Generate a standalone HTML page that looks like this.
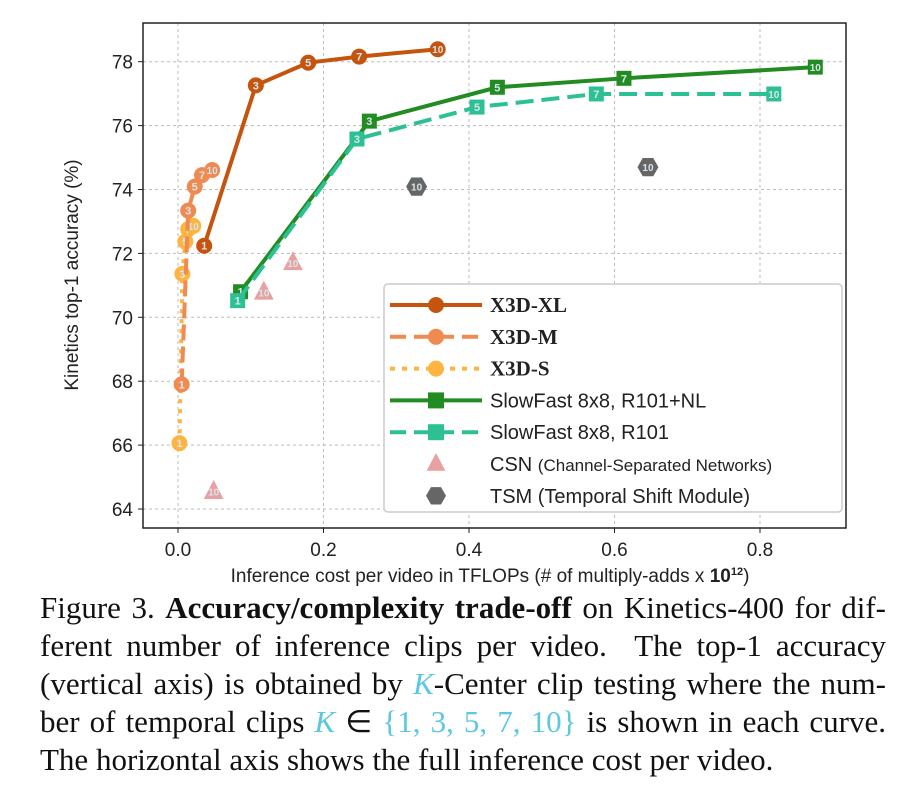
<!DOCTYPE html>
<html><head><meta charset="utf-8"><style>
body{margin:0;background:#fff;width:915px;height:794px;overflow:hidden;position:relative}
.cap{position:absolute;left:40px;width:846px;font-family:"Liberation Serif",serif;font-size:31px;color:#111;text-align:justify;text-align-last:justify;white-space:nowrap;line-height:34px}
.k{color:#5bc8e0;font-style:italic}
.m{color:#5bc8e0}
</style></head><body>
<svg id="chart" width="915" height="595" style="position:absolute;left:0;top:0" font-family="Liberation Sans, sans-serif"></svg>
<div class="cap" style="top:591px">Figure 3. <b>Accuracy/complexity trade-off</b> on Kinetics-400 for dif-</div>
<div class="cap" style="top:629px">ferent number of inference clips per video.&nbsp; The top-1 accuracy</div>
<div class="cap" style="top:667px">(vertical axis) is obtained by <span class="k">K</span>-Center clip testing where the num-</div>
<div class="cap" style="top:705px">ber of temporal clips <span class="k">K</span> <span>∈</span> <span class="m">{1, 3, 5, 7, 10}</span> is shown in each curve.</div>
<div class="cap" style="top:743px;text-align-last:left">The horizontal axis shows the full inference cost per video.</div>
<script>
const clips=["1","3","5","7","10"];
const xlX=[0.036,0.107,0.179,0.249,0.357], xlY=[72.24,77.26,77.97,78.16,78.39];
const mX=[0.005,0.014,0.023,0.033,0.047], mY=[67.9,73.34,74.09,74.45,74.61];
const sX=[0.002,0.006,0.010,0.014,0.021], sY=[66.06,71.36,72.37,72.76,72.86];
const sfnlX=[0.086,0.263,0.439,0.613,0.876], sfnlY=[70.8,76.14,77.2,77.48,77.83];
const sfX=[0.082,0.246,0.411,0.575,0.819], sfY=[70.52,75.58,76.58,76.99,76.99];
const csnX=[0.158,0.118,0.049], csnY=[71.7,70.78,64.54], csnL=["10","10","10"];
const tsmX=[0.328,0.646], tsmY=[74.09,74.7], tsmL=["10","10"];
const xTicks=[0,0.2,0.4,0.6,0.8], xTickLabels=["0.0","0.2","0.4","0.6","0.8"];
const yTicks=[64,66,68,70,72,74,76,78];
const NS="http://www.w3.org/2000/svg", svg=document.getElementById('chart');
const L=143,R=846,T=23,B=528;
const xs=v=>178+v*727.5, ys=v=>61.7+(78-v)*31.95;
function el(t,a,p){const e=document.createElementNS(NS,t);for(const k in a)e.setAttribute(k,a[k]);(p||svg).appendChild(e);return e;}
xTicks.forEach((v,i)=>{const g=el('line',{x1:xs(v),x2:xs(v),y1:T,y2:B,stroke:'#bbb','stroke-dasharray':'3,3','stroke-width':1});

const t=el('text',{x:xs(v),y:556,'text-anchor':'middle','font-size':19,fill:'#222'});t.textContent=xTickLabels[i];

el('line',{x1:xs(v),x2:xs(v),y1:B,y2:B+5,stroke:'#222'});});
yTicks.forEach(v=>{const g=el('line',{x1:L,x2:R,y1:ys(v),y2:ys(v),stroke:'#bbb','stroke-dasharray':'3,3','stroke-width':1});

const t=el('text',{x:133,y:ys(v)+7,'text-anchor':'end','font-size':19,fill:'#222'});t.textContent=v;

el('line',{x1:L-5,x2:L,y1:ys(v),y2:ys(v),stroke:'#222'});});
const fr=el('rect',{x:L,y:T,width:R-L,height:B-T,fill:'none',stroke:'#222','stroke-width':1.5});

const yt=el('text',{x:0,y:0,transform:'translate(78,275) rotate(-90)','text-anchor':'middle','font-size':19,fill:'#222'});yt.textContent='Kinetics top-1 accuracy (%)';

const xt=el('text',{x:490,y:582,'text-anchor':'middle','font-size':19,fill:'#222'});
xt.innerHTML='Inference cost per video in TFLOPs (# of multiply-adds x <tspan font-weight="bold">10</tspan><tspan font-weight="bold" font-size="11" dy="-7">12</tspan><tspan dy="7">)</tspan>';

function marker(shape,x,y,c,r,g){
 if(shape==='c')return el('circle',{cx:x,cy:y,r:r,fill:c},g);
 if(shape==='s')return el('rect',{x:x-r,y:y-r,width:2*r,height:2*r,fill:c},g);
 if(shape==='t')return el('polygon',{points:`${x},${y-r*1.3} ${x-r*1.1},${y+r*0.8} ${x+r*1.1},${y+r*0.8}`,fill:c},g);
 let p=[];for(let i=0;i<6;i++){const a=Math.PI/3*i;p.push((x+r*Math.cos(a))+','+(y+r*Math.sin(a)));}
 return el('polygon',{points:p.join(' '),fill:c},g);}
function series(name,X,Y,labels,c,dash,w,shape,r,line){
 const g=el('g',{});
 if(line){const pl=el('polyline',{points:X.map((v,i)=>xs(v)+','+ys(Y[i])).join(' '),fill:'none',stroke:c,'stroke-width':w,'stroke-dasharray':dash},g);
 }
 X.forEach((v,i)=>{const m=marker(shape,xs(v),ys(Y[i]),c,r,g);
 
 const t=el('text',{x:xs(v),y:ys(Y[i])+4,'text-anchor':'middle','font-size':labels[i].length>1?10:11,'font-weight':'bold',fill:'#d6e6ee'},g);t.textContent=labels[i];});
}
series('csn',csnX,csnY,csnL,'#e8a0a0','',0,'t',9,false);
series('tsm',tsmX,tsmY,tsmL,'#666','',0,'h',10.5,false);
series('slowfast-r101-nl',sfnlX,sfnlY,clips,'#228b22','',4,'s',7.5,true);
series('slowfast-r101',sfX,sfY,clips,'#2ec095','18,8',4,'s',7.5,true);
series('x3d-s',sX,sY,clips,'#fdb441','4,6',4,'c',8,true);
series('x3d-m',mX,mY,clips,'#ef8a50','16,6',4,'c',8,true);
series('x3d-xl',xlX,xlY,clips,'#c4540e','',4,'c',8,true);
const lg=el('g',{});
el('rect',{x:384,y:284,width:458,height:228,rx:4,fill:'#fff',stroke:'#ccc','stroke-width':1.5},lg);
const items=[['X3D-XL','#c4540e','','c',true,true],['X3D-M','#ef8a50','16,8','c',true,true],['X3D-S','#fdb441','5,7','c',true,true],
['SlowFast 8x8, R101+NL','#228b22','','s',true,false],['SlowFast 8x8, R101','#2ec095','16,8','s',true,false],
['CSN <tspan font-size="17">(Channel-Separated Networks)</tspan>','#e8a0a0','','t',false,false],['TSM (Temporal Shift Module)','#666','','h',false,false]];
items.forEach((it,i)=>{const y=305+i*31.8;const g=el('g',{},lg);
 if(it[4])el('line',{x1:390,x2:482,y1:y,y2:y,stroke:it[1],'stroke-width':4,'stroke-dasharray':it[2]},g);
 marker(it[3],436,y,it[1],it[3]==='h'?10:it[3]==='t'?8.5:8,g);
 const t=el('text',{x:490,y:y+7,'font-size':it[5]?21:20,fill:'#222','font-family':it[5]?'Liberation Serif, serif':'Liberation Sans, sans-serif','font-weight':it[5]?'bold':'normal'},g);t.innerHTML=it[0];});
</script>
</body></html>
